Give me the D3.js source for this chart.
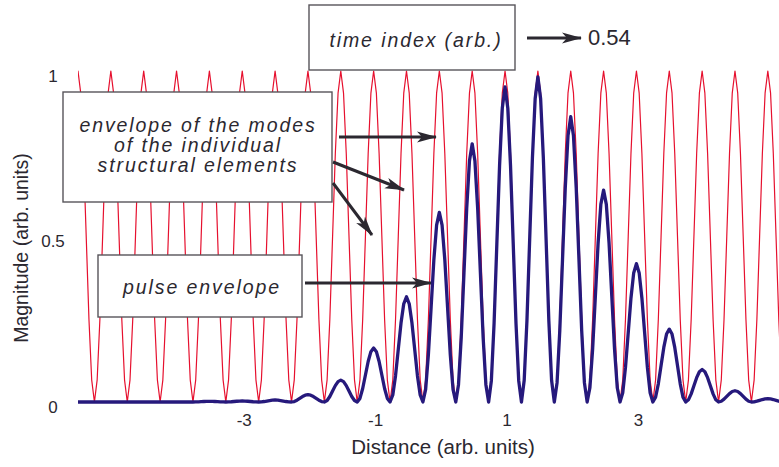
<!DOCTYPE html>
<html>
<head>
<meta charset="utf-8">
<script src="https://cdn.jsdelivr.net/npm/d3@7"></script>
<style>
  body { margin: 0; background: #fff; }
  svg { display: block; font-family: "Liberation Sans", Arial, sans-serif; }
</style>
</head>
<body>
<div id="chart"></div>
<script>
// mode centres (arb. units) and the pulse height at each of them
const modeCentres = [-5.5, -5, -4.5, -4, -3.5, -3, -2.5, -2, -1.5, -1, -0.5, 0,
  0.5, 1, 1.5, 2, 2.5, 3, 3.5, 4, 4.5, 5, 5.5];
const pulsePeaks = [0, 0, 0, 0, 0.002, 0.003, 0.006, 0.022, 0.066, 0.163, 0.318, 0.573,
  0.78, 0.952, 0.982, 0.862, 0.64, 0.418, 0.22, 0.098, 0.034, 0.01, 0.003];
const modePeak = 1;

const xTicks = [-3, -1, 1, 3];
const yTicks = [0, 0.5, 1];
const xTitle = "Distance (arb. units)";
const yTitle = "Magnitude (arb. units)";
const timeLabel = "time index (arb.)";
const timeValue = "0.54";

const width = 779;
const height = 467;
const ink = "#2b2830";

const x = d3.scaleLinear().domain([-5.5, 5.17]).range([78, 779]);
const y = d3.scaleLinear().domain([0, 1]).range([402, 71]);

// every mode is one cos^2 lobe, half a unit wide
const halfWidth = 0.25;
const steps = 12;

function lobes(heights) {
  const pts = [];
  modeCentres.forEach((c, i) => {
    for (let k = (i === 0 ? 0 : 1); k <= steps; k++) {
      const off = -halfWidth + (2 * halfWidth * k) / steps;
      const v = Math.cos(Math.PI * off / (2 * halfWidth)) ** 2;
      pts.push([c + off, heights(i) * v]);
    }
  });
  return pts;
}

const line = d3.line()
  .x(d => x(d[0]))
  .y(d => y(d[1]));

const svg = d3.select("#chart").append("svg")
  .attr("width", width)
  .attr("height", height);

svg.append("defs").append("clipPath")
  .attr("id", "plot")
  .append("rect")
  .attr("x", x.range()[0]).attr("y", 0)
  .attr("width", x.range()[1] - x.range()[0]).attr("height", height);

const plot = svg.append("g").attr("clip-path", "url(#plot)");

plot.append("path")
  .datum(lobes(() => modePeak))
  .attr("fill", "none")
  .attr("stroke", "#e6102e")
  .attr("stroke-width", 1.2)
  .attr("stroke-linejoin", "round")
  .attr("d", line);

plot.append("path")
  .datum(lobes(i => pulsePeaks[i]))
  .attr("fill", "none")
  .attr("stroke", "#26197c")
  .attr("stroke-width", 3.3)
  .attr("stroke-linejoin", "round")
  .attr("d", line);

// tick labels, no axis lines in the original
svg.append("g")
  .selectAll("text")
  .data(xTicks)
  .join("text")
  .attr("x", d => x(d) + 2)
  .attr("y", 420)
  .attr("dy", "0.35em")
  .attr("text-anchor", "middle")
  .attr("font-size", 17)
  .attr("fill", ink)
  .text(d => d);

svg.append("g")
  .selectAll("text")
  .data(yTicks)
  .join("text")
  .attr("x", 53)
  .attr("y", d => y(d) + 5)
  .attr("dy", "0.35em")
  .attr("text-anchor", "middle")
  .attr("font-size", 17)
  .attr("fill", ink)
  .text(d => d);

svg.append("text")
  .attr("x", 443)
  .attr("y", 447)
  .attr("dy", "0.35em")
  .attr("text-anchor", "middle")
  .attr("font-size", 20.5)
  .attr("fill", ink)
  .text(xTitle);

svg.append("text")
  .attr("transform", "translate(21,248) rotate(-90)")
  .attr("dy", "0.35em")
  .attr("text-anchor", "middle")
  .attr("font-size", 19.5)
  .attr("fill", ink)
  .text(yTitle);

// arrows
svg.select("defs").append("marker")
  .attr("id", "head")
  .attr("viewBox", "0 -7 20 14")
  .attr("refX", 19)
  .attr("refY", 0)
  .attr("markerWidth", 20)
  .attr("markerHeight", 14)
  .attr("markerUnits", "userSpaceOnUse")
  .attr("orient", "auto")
  .append("path")
  .attr("d", "M0,-5.5L20,0L0,5.5L5,0Z")
  .attr("fill", ink);

function arrow(x1, y1, x2, y2) {
  svg.append("line")
    .attr("x1", x1).attr("y1", y1)
    .attr("x2", x2).attr("y2", y2)
    .attr("stroke", ink)
    .attr("stroke-width", 3)
    .attr("marker-end", "url(#head)");
}

function box(x0, y0, w, h, lines, cx, cy, gap) {
  svg.append("rect")
    .attr("x", x0).attr("y", y0)
    .attr("width", w).attr("height", h)
    .attr("fill", "#fff")
    .attr("stroke", "#57545a")
    .attr("stroke-width", 1.4);
  svg.append("g")
    .selectAll("text")
    .data(lines)
    .join("text")
    .attr("x", cx)
    .attr("y", (d, i) => cy + (i - (lines.length - 1) / 2) * gap)
    .attr("dy", "0.35em")
    .attr("text-anchor", "middle")
    .attr("font-size", 19.5)
    .attr("font-style", "italic")
    .attr("letter-spacing", 1.9)
    .attr("fill", ink)
    .text(d => d);
}

box(309, 5, 206, 65, [timeLabel], 416, 40, 0);
arrow(527, 38, 581, 38);
svg.append("text")
  .attr("x", 588)
  .attr("y", 37)
  .attr("dy", "0.35em")
  .attr("font-size", 22)
  .attr("fill", ink)
  .text(timeValue);

box(63, 92, 269, 110,
  ["envelope of the modes", "of the individual", "structural elements"], 198, 145, 20);
arrow(339, 137, 436, 137);
arrow(333, 162, 404, 190);
arrow(333, 183, 372, 235);

box(98, 255, 204, 62, ["pulse envelope"], 202, 287, 0);
arrow(305, 283, 431, 283);
</script>
</body>
</html>
